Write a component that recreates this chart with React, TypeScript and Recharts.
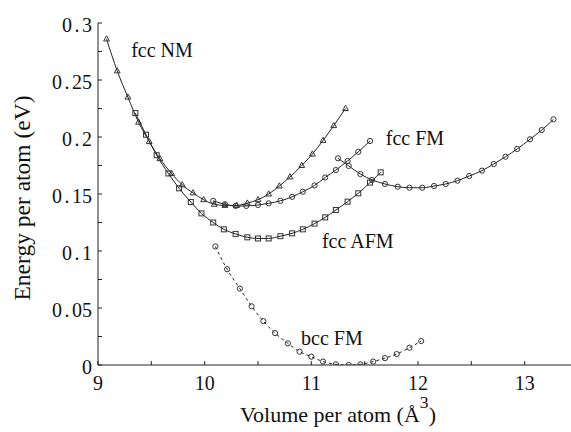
import React from "react";
import {
  LineChart,
  Line,
  XAxis,
  YAxis,
  ReferenceDot,
} from "recharts";

// volumes (Å^3) and energies (eV)
const nmVol = [9.08, 9.18, 9.28, 9.38, 9.48, 9.58, 9.69, 9.79, 9.89, 9.99, 10.09, 10.19, 10.3, 10.4, 10.5, 10.6, 10.7, 10.8, 10.91, 11.01, 11.11, 11.21, 11.32];
const nmE = [0.286, 0.258, 0.235, 0.213, 0.196, 0.181, 0.168, 0.158, 0.151, 0.145, 0.141, 0.14, 0.14, 0.142, 0.145, 0.15, 0.157, 0.165, 0.175, 0.185, 0.197, 0.21, 0.225];

const afmVol = [9.35, 9.45, 9.55, 9.66, 9.76, 9.87, 9.97, 10.08, 10.18, 10.29, 10.4, 10.5, 10.6, 10.71, 10.82, 10.92, 11.03, 11.13, 11.23, 11.34, 11.44, 11.55, 11.65];
const afmE = [0.221, 0.202, 0.184, 0.168, 0.155, 0.143, 0.133, 0.125, 0.119, 0.115, 0.112, 0.111, 0.111, 0.113, 0.1155, 0.119, 0.124, 0.1295, 0.136, 0.1433, 0.1506, 0.16, 0.169];

const fmLowVol = [10.08, 10.19, 10.29, 10.39, 10.5, 10.6, 10.71, 10.82, 10.92, 11.03, 11.13, 11.23, 11.34, 11.44, 11.55];
const fmLowE = [0.144, 0.141, 0.1395, 0.1395, 0.1404, 0.1418, 0.144, 0.1475, 0.152, 0.1575, 0.1645, 0.171, 0.179, 0.187, 0.1965];

const fmHighVol = [11.25, 11.35, 11.46, 11.57, 11.69, 11.81, 11.92, 12.04, 12.15, 12.26, 12.37, 12.48, 12.6, 12.71, 12.82, 12.93, 13.05, 13.16, 13.27];
const fmHighE = [0.1813, 0.1746, 0.1675, 0.1623, 0.1588, 0.1564, 0.1555, 0.1555, 0.157, 0.1588, 0.1617, 0.1658, 0.1705, 0.1763, 0.1827, 0.1895, 0.198, 0.2061, 0.2155];

const bccVol = [10.1, 10.21, 10.33, 10.44, 10.55, 10.66, 10.78, 10.89, 11.0, 11.11, 11.23, 11.35, 11.46, 11.58, 11.69, 11.8, 11.92, 12.03];
const bccE = [0.104, 0.084, 0.067, 0.0515, 0.0385, 0.028, 0.019, 0.0117, 0.0073, 0.003, 0.0006, 0, 0.0006, 0.003, 0.006, 0.0096, 0.0152, 0.021];

const xTicks = [9, 9.5, 10, 10.5, 11, 11.5, 12, 12.5, 13, 13.5];
const yTicks = [0, 0.025, 0.05, 0.075, 0.1, 0.125, 0.15, 0.175, 0.2, 0.225, 0.25, 0.275, 0.3];

// curve names, anchored at the middle of their baseline
const labels = [
  { text: "fcc NM", v: 9.6, e: 0.27 },
  { text: "fcc FM", v: 11.971, e: 0.193 },
  { text: "fcc AFM", v: 11.435, e: 0.1024 },
  { text: "bcc FM", v: 11.193, e: 0.0175 },
];

const zip = (vs: number[], es: number[]) => vs.map((v, i) => ({ v, e: es[i] }));

const INK = "#222";
const FONT = "'Liberation Serif', 'DejaVu Serif', serif";
const txt = { fontFamily: FONT, fill: "#111" };

const circleDot = (p: any) => (
  <circle key={p.index} cx={p.cx} cy={p.cy} r={2.6} fill="none" stroke="#333" strokeWidth={1} />
);
const squareDot = (p: any) => (
  <rect key={p.index} x={p.cx - 2.5} y={p.cy - 2.5} width={5} height={5} fill="none" stroke="#333" strokeWidth={1} />
);
const triDot = (p: any) => (
  <path
    key={p.index}
    d={`M${p.cx},${p.cy - 3.2} L${p.cx + 2.9},${p.cy + 2} L${p.cx - 2.9},${p.cy + 2} Z`}
    fill="none"
    stroke="#333"
    strokeWidth={1}
  />
);

const XTick = (props: any) => {
  const { x, y, payload, orientation } = props;
  const v = payload.value;
  const top = orientation === "top";
  return (
    <g>
      <line x1={x} x2={x} y1={y} y2={top ? y + 4 : y - 4} stroke={INK} />
      {!top && Number.isInteger(v) && (
        <text x={x} y={y + 25} textAnchor="middle" style={{ ...txt, fontSize: 20 }}>
          {v}
        </text>
      )}
    </g>
  );
};

const YTick = (props: any) => {
  const { x, y, payload } = props;
  const v = payload.value;
  const major = Math.abs(v * 20 - Math.round(v * 20)) < 1e-6;
  const [ip, dp] = String(+v.toFixed(2)).split(".");
  return (
    <g>
      <line x1={x} x2={x + 4} y1={y} y2={y} stroke={INK} />
      {major && (
        <text x={x - 6} y={y + 8.5} textAnchor="end" style={{ ...txt, fontSize: 20 }}>
          {ip}
          {dp && <tspan dx={2.5}>.</tspan>}
          {dp && <tspan dx={2.5}>{dp}</tspan>}
        </text>
      )}
    </g>
  );
};

export default function App() {
  return (
    <div style={{ position: "absolute", left: 0, top: 0, width: 571, height: 432, overflow: "hidden", background: "#fff" }}>
      <LineChart width={590} height={432} margin={{ top: 23, right: 12, left: 0, bottom: 0 }}>
        <XAxis
          xAxisId="b"
          type="number"
          dataKey="v"
          domain={[9, 13.5]}
          ticks={xTicks}
          tick={<XTick />}
          tickLine={false}
          tickSize={0}
          tickMargin={0}
          height={67}
          stroke={INK}
          allowDataOverflow
          label={({ viewBox }: any) => (
            <text
              transform={`translate(${viewBox.x + viewBox.width / 2}, 422) scale(1.1, 1)`}
              textAnchor="middle"
              style={{ ...txt, fontSize: 20 }}
            >
              Volume per atom (
              <tspan>Å</tspan>
              <tspan dy={-14} style={{ fontSize: 16 }}>3</tspan>
              <tspan dy={14}>)</tspan>
            </text>
          )}
        />
        <XAxis
          xAxisId="t"
          orientation="top"
          type="number"
          dataKey="v"
          domain={[9, 13.5]}
          ticks={xTicks}
          tick={<XTick orientation="top" />}
          tickLine={false}
          tickSize={0}
          tickMargin={0}
          height={0}
          stroke={INK}
          allowDataOverflow
        />
        <YAxis
          type="number"
          domain={[0, 0.3]}
          ticks={yTicks}
          tick={<YTick />}
          tickLine={false}
          tickSize={0}
          tickMargin={0}
          width={98}
          stroke={INK}
          allowDataOverflow
          label={({ viewBox }: any) => {
            const cy = viewBox.y + viewBox.height / 2 + 4;
            return (
              <text
                transform={`translate(30, ${cy}) rotate(-90)`}
                textAnchor="middle"
                style={{ ...txt, fontSize: 23.5 }}
              >
                Energy per atom (eV)
              </text>
            );
          }}
        />
        <Line xAxisId="b" data={zip(nmVol, nmE)} dataKey="e" type="monotone" stroke={INK} strokeWidth={1} dot={triDot} isAnimationActive={false} />
        <Line xAxisId="b" data={zip(afmVol, afmE)} dataKey="e" type="monotone" stroke={INK} strokeWidth={1} dot={squareDot} isAnimationActive={false} />
        <Line xAxisId="b" data={zip(fmLowVol, fmLowE)} dataKey="e" type="monotone" stroke={INK} strokeWidth={1} dot={circleDot} isAnimationActive={false} />
        <Line xAxisId="b" data={zip(fmHighVol, fmHighE)} dataKey="e" type="monotone" stroke={INK} strokeWidth={1} dot={circleDot} isAnimationActive={false} />
        <Line xAxisId="b" data={zip(bccVol, bccE)} dataKey="e" type="monotone" stroke={INK} strokeWidth={1} strokeDasharray="3 3" dot={circleDot} isAnimationActive={false} />
        {labels.map((l) => (
          <ReferenceDot
            key={l.text}
            xAxisId="b"
            x={l.v}
            y={l.e}
            r={0}
            fill="none"
            stroke="none"
            label={({ viewBox }: any) => (
              <text x={viewBox.x} y={viewBox.y} textAnchor="middle" style={{ ...txt, fontSize: 20 }}>
                {l.text}
              </text>
            )}
          />
        ))}
      </LineChart>
    </div>
  );
}
